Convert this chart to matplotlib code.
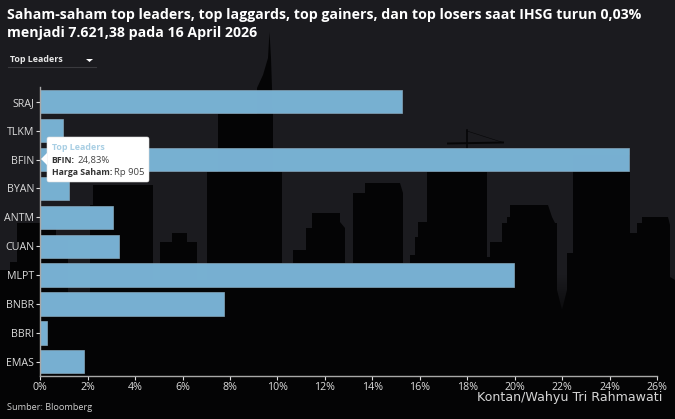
# Saham top leaders - bar chart dengan latar siluet gedung

import numpy as np
import matplotlib
matplotlib.use("Agg")
import matplotlib.pyplot as plt
from matplotlib.patches import Polygon, FancyBboxPatch

plt.rcParams['font.family'] = ['Open Sans', 'DejaVu Sans']

# Data

tickers = ["SRAJ", "TLKM", "BFIN", "BYAN", "ANTM", "CUAN", "MLPT", "BNBR", "BBRI", "EMAS"]
values = [15.27, 0.96, 24.83, 1.2, 3.05, 3.33, 19.96, 7.76, 0.28, 1.83]
x_ticks = [0, 2, 4, 6, 8, 10, 12, 14, 16, 18, 20, 22, 24, 26]

title_lines = ["Saham-saham top leaders, top laggards, top gainers, dan top losers saat IHSG turun 0,03%",
               "menjadi 7.621,38 pada 16 April 2026"]

W, H = 675, 419
fig = plt.figure(figsize=(W / 100, H / 100), dpi=100)

# Latar belakang (koordinat piksel)

bg = fig.add_axes([0, 0, 1, 1], zorder=0)
bg.set_xlim(0, W)
bg.set_ylim(H, 0)
bg.axis("off")

c_sky = [0.106, 0.106, 0.122]
c_low = [0.012, 0.012, 0.014]
sky = np.array([c_sky] * 275 + list(np.linspace(c_sky, c_low, 55)) + [c_low] * 89)
bg.imshow(sky[:, None, :], extent=[0, W, H, 0], aspect="auto", zorder=0)

# siluet gedung
skyline = [(0, 270), (10, 270), (10, 262), (17, 262), (17, 223), (40, 223), (40, 225), (56, 225), (56, 240), (68, 240),
           (68, 300), (90, 300), (90, 205), (93, 205), (93, 185), (153, 185), (153, 280), (160, 280), (160, 242), (172, 242),
           (172, 233), (187, 233), (187, 242), (197, 242), (197, 280), (207, 280), (207, 172), (218, 172), (218, 114),
           (257, 114), (257, 88), (263, 75), (268, 58), (269.5, 32), (271, 58), (272, 88), (273, 114), (273, 172),
           (282, 172), (282, 263), (293, 263), (293, 250), (306, 250), (306, 228), (312, 228), (312, 213), (340, 213),
           (340, 222), (345, 228), (345, 263), (353, 263), (353, 193), (365, 193), (365, 183), (400, 183), (403, 193),
           (403, 263), (410, 263), (410, 255), (415, 255), (415, 237), (418, 237), (418, 222), (427, 222), (427, 172),
           (487, 172), (487, 257), (490, 257), (490, 242), (502, 242), (502, 223), (507, 223), (507, 217), (510, 217),
           (510, 205), (548, 205), (552, 217), (555, 223), (557, 223), (557, 290), (562, 310), (567, 290), (567, 253),
           (573, 253), (573, 155), (630, 155), (630, 233), (637, 233), (637, 223), (642, 223), (642, 217), (668, 217),
           (670, 225), (670, 277), (675, 280), (675, 419), (0, 419)]
bg.add_patch(Polygon(skyline, closed=True, facecolor="#040405", edgecolor="none", zorder=1))

# macara
bg.plot([448, 503], [143.5, 142.5], color="#060607", lw=1.4, zorder=1)
bg.plot([467, 467], [130, 148], color="#060607", lw=1.2, zorder=1)
bg.plot([467, 503], [131, 142.5], color="#060607", lw=0.4, zorder=1)

# Grafic

ax = fig.add_axes([40.3 / W, 1 - 376 / H, (657 - 40.3) / W, (376 - 87) / H], zorder=1)
ax.patch.set_alpha(0)
y = np.arange(len(tickers))
ax.barh(y, values, height=0.806, color="#7ab4d6", edgecolor="#86a6ba", linewidth=0.5, alpha=0.98)
ax.set_xlim(0, 26)
ax.set_ylim(9.49, -0.51)
ax.set_yticks(y, tickers)
ax.set_xticks(x_ticks, [str(t) + "%" for t in x_ticks])
ax.tick_params(axis="both", colors="#dcdcdc", labelsize=7.7, length=2.8, width=0.8, pad=1.5)
for side in ["top", "right"]:
    ax.spines[side].set_visible(False)
for side in ["left", "bottom"]:
    ax.spines[side].set_color("#a8a8a8")
    ax.spines[side].set_linewidth(1)

# Titlu, dropdown, sursa

for i, line in enumerate(title_lines):
    fig.text(7 / W, 1 - (15.5 + 17 * i) / H, line, color="white", fontsize=10.15, fontweight="bold", va="center")

bg.text(9.5, 60, "Top Leaders", color="#e8e8e8", fontsize=6.4, fontweight="bold", va="center")
bg.add_patch(Polygon([(86, 59), (93, 59), (89.5, 62)], closed=True, facecolor="white", edgecolor="none"))
bg.plot([8, 96], [67.5, 67.5], color="#3a3a3e", lw=0.8)
bg.text(7, 407, "Sumber: Bloomberg", color="#cfcfcf", fontsize=6.6, va="center")
fig.text(662 / W, 1 - 397 / H, "Kontan/Wahyu Tri Rahmawati", color="#d5d5d5", fontsize=9.1,
         family="DejaVu Sans", ha="right", va="center", zorder=5)

# Tooltip

over = fig.add_axes([0, 0, 1, 1], zorder=3)
over.set_xlim(0, W)
over.set_ylim(H, 0)
over.axis("off")
over.add_patch(FancyBboxPatch((47, 137), 102, 45, boxstyle="round,pad=0,rounding_size=2", facecolor="white", edgecolor="#dddddd", linewidth=0.4))
over.add_patch(Polygon([(47, 153), (41, 159), (47, 165)], closed=True, facecolor="white", edgecolor="none"))
over.text(51.5, 147.5, "Top Leaders", color="#a9cfe4", fontsize=6.4, fontweight="bold", va="center")
over.text(51.5, 160, "BFIN:", color="#333333", fontsize=6.3, fontweight="bold", va="center")
over.text(77, 160, "24,83%", color="#444444", fontsize=6.8, va="center")
over.text(51.5, 172, "Harga Saham:", color="#333333", fontsize=6.3, fontweight="bold", va="center")
over.text(113.5, 172, "Rp 905", color="#444444", fontsize=6.8, va="center")

fig.savefig("out.png", dpi=100)
